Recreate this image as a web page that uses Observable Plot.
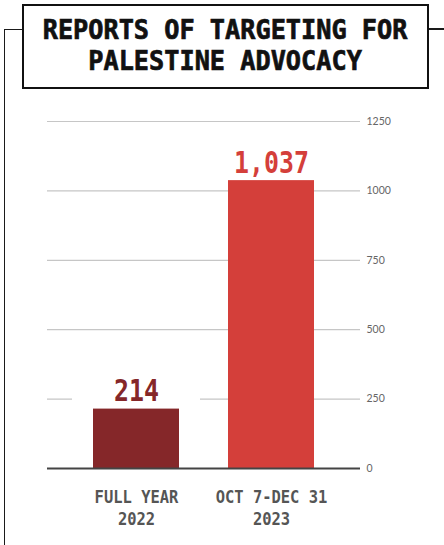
<!DOCTYPE html>
<html><head><meta charset="utf-8">
<script src="https://cdn.jsdelivr.net/npm/d3@7"></script>
<script src="https://cdn.jsdelivr.net/npm/@observablehq/plot@0.6"></script>
<style>
html,body{margin:0;padding:0;background:#fff;}
body{width:444px;height:545px;position:relative;overflow:hidden;}
#header{position:relative;height:100px;}
.frame{position:absolute;background:#1a1a1a;z-index:5;}
#box{position:absolute;left:22px;top:4px;width:403px;height:81px;border:2px solid #111;background:#fff;z-index:6;}
#title{position:absolute;left:-60px;right:-60px;top:7.6px;text-align:center;font-family:"DejaVu Sans Mono",monospace;font-weight:bold;font-size:27px;line-height:31.5px;color:#111;margin:0;-webkit-text-stroke:0.7px #111;}
#title span{display:inline-block;transform:scaleX(0.935);white-space:nowrap;}
#chart{position:absolute;left:0;top:100px;}
</style>
</head>
<body>
<div class="frame" style="left:3.5px;top:28.5px;width:1.5px;height:520px;"></div>
<div class="frame" style="left:3.5px;top:28.5px;width:19px;height:1.5px;"></div>
<div class="frame" style="left:429px;top:28px;width:15px;height:1.5px;"></div>
<div id="header">
  <div id="box">
    <h1 id="title"><span>REPORTS OF TARGETING FOR<br>PALESTINE ADVOCACY</span></h1>
  </div>
</div>
<div id="chart"></div>
<script>
const categories = ["FULL YEAR\n2022", "OCT 7-DEC 31\n2023"];
const values = [214, 1037];
const yTicks = [0, 250, 500, 750, 1000, 1250];
const barColors = ["#852729", "#d43f3a"];

const data = categories.map((category, i) => ({category, value: values[i]}));
const mono = '"DejaVu Sans Mono", monospace';

const chart = Plot.plot({
  width: 444, height: 445,
  marginLeft: 47, marginRight: 84, marginTop: 21, marginBottom: 77,
  style: {background: "white", fontFamily: "Lato, sans-serif", overflow: "visible"},
  x: {type: "band", domain: categories, paddingInner: 0.363, paddingOuter: 0.3407, align: 0.5},
  y: {domain: [0, 1250]},
  color: {domain: categories, range: barColors},
  marks: [
    Plot.gridY(yTicks, {stroke: "#c6c6c6", strokeOpacity: 1, strokeWidth: 1.2}),
    Plot.barY(data, {x: "category", y1: "value", y2: "value", insetTop: -40, insetBottom: 4, insetLeft: -21, insetRight: -21, fill: "white"}),
    Plot.barY(data, {x: "category", y: "value", fill: "category"}),
    Plot.ruleY([0], {stroke: "#444", strokeWidth: 2}),
    Plot.text(data, {x: "category", y: "value", text: d => d3.format(",")(d.value), fill: "category", dy: -8, lineAnchor: "bottom", fontSize: 30, fontWeight: "bold", fontFamily: mono}),
    Plot.axisY(yTicks, {anchor: "right", tickSize: 0, tickPadding: 6, tickFormat: d => String(d), label: null, fontSize: 10.5, fill: "#666"}),
    Plot.axisX({tickSize: 0, tickPadding: 20, label: null, fontSize: 18, fontWeight: "bold", fontFamily: mono, fill: "#555", lineHeight: 1.17})
  ]
});

function squeeze(el, sx, sy) {
  const xa = el.getAttribute("x"), ya = el.getAttribute("y");
  let tx = 0, ty = 0;
  if (xa != null && !/em$/.test(xa)) {
    tx = +xa; el.removeAttribute("x");
    el.querySelectorAll("tspan[x]").forEach(ts => ts.setAttribute("x", +ts.getAttribute("x") - tx));
  }
  if (ya != null && !/em$/.test(ya)) { ty = +ya; el.removeAttribute("y"); }
  const t = el.getAttribute("transform") || "";
  el.setAttribute("transform", `${t} translate(${tx},${ty}) scale(${sx},${sy})`.trim());
}
chart.querySelectorAll('g[aria-label="text"] text').forEach(el => squeeze(el, 0.83, 1));
chart.querySelectorAll('g[aria-label="x-axis tick label"] text').forEach(el => squeeze(el, 0.86, 1));

document.getElementById("chart").appendChild(chart);
</script>
</body></html>
